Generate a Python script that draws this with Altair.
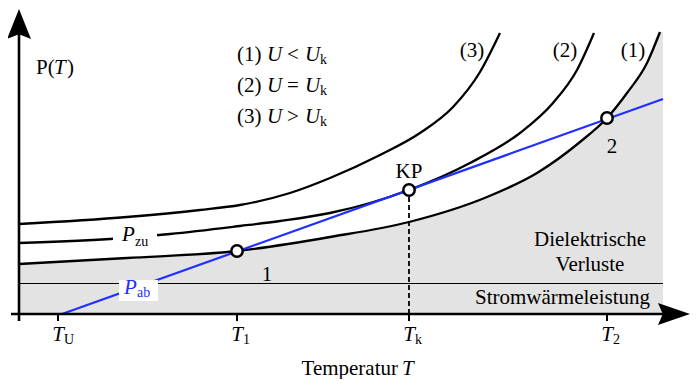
import altair as alt
import pandas as pd

# ---- data (x: temperature, y: power; arbitrary units) ----
curve1_x = [0, 108, 218, 311, 390, 468, 518, 561, 588, 608, 628, 641]
curve1_y = [50, 56, 63, 77, 92, 117, 141, 172, 196, 221, 251, 282]
curve2_x = [0, 91, 151, 221, 261, 311, 351, 390, 451, 501, 534, 558, 575]
curve2_y = [71, 75, 80, 88, 93, 101, 111, 124, 151, 181, 211, 244, 281]
curve3_x = [0, 108, 181, 221, 271, 311, 361, 401, 434, 461, 481]
curve3_y = [90, 97, 104, 109, 121, 136, 159, 181, 207, 242, 281]
pab_x = [43, 644]
pab_y = [0, 215]
gray_end_x = 644
gray_top_y = 282
joule_y = 30.5

tick_x = [39, 218, 390, 588]
tick_sub = ["U", "1", "k", "2"]
pts_x = [218, 390, 588]
pts_y = [63, 124, 196]

X_DOMAIN = [-11, 672]
Y_DOMAIN = [-65, 306]

FONT = "Liberation Serif"
BIG = 21
SMALL = 14

xs = alt.Scale(domain=X_DOMAIN, nice=False, zero=False)
ys = alt.Scale(domain=Y_DOMAIN, nice=False, zero=False)
X = alt.X("x:Q", scale=xs, axis=None)
Y = alt.Y("y:Q", scale=ys, axis=None)
X2 = alt.X2("x2:Q")
Y2 = alt.Y2("y2:Q")

# gray region under curve (1)
gray_df = pd.DataFrame({"x": curve1_x + [gray_end_x], "y": curve1_y + [gray_top_y], "y2": 0})
gray = alt.Chart(gray_df).mark_area(color="#e3e3e3", opacity=1, interpolate="monotone").encode(
    x=X, y=Y, y2=Y2)

joule = alt.Chart(pd.DataFrame({"x": [0], "x2": [gray_end_x], "y": [joule_y]})).mark_rule(
    color="black", strokeWidth=1).encode(x=X, x2=X2, y=Y)

curves_df = pd.concat([
    pd.DataFrame({"x": curve1_x, "y": curve1_y, "c": "1"}),
    pd.DataFrame({"x": curve2_x, "y": curve2_y, "c": "2"}),
    pd.DataFrame({"x": curve3_x, "y": curve3_y, "c": "3"}),
])
curves = alt.Chart(curves_df).mark_line(color="black", strokeWidth=2.3, interpolate="monotone").encode(
    x=X, y=Y, detail="c:N")

pab = alt.Chart(pd.DataFrame({"x": pab_x, "y": pab_y})).mark_line(color="#1f2fff", strokeWidth=2.2).encode(x=X, y=Y)

dashed = alt.Chart(pd.DataFrame({"x": [pts_x[1]], "y": [0], "y2": [pts_y[1]]})).mark_rule(
    color="black", strokeWidth=1.8, strokeDash=[5, 3]).encode(x=X, y=Y, y2=Y2)

axes_df = pd.DataFrame({"x": [0, -8], "x2": [0, 645], "y": [-7, 0], "y2": [285, 0]})
axes = alt.Chart(axes_df).mark_rule(color="black", strokeWidth=2.6).encode(x=X, x2=X2, y=Y, y2=Y2)

ticks = alt.Chart(pd.DataFrame({"x": tick_x, "y": 0, "y2": -7})).mark_rule(
    color="black", strokeWidth=2).encode(x=X, y=Y, y2=Y2)

arrow_up = alt.Chart(pd.DataFrame({"x": [0], "y": [290]})).mark_point(
    shape="M0,-1L0.8,1L0,0.68L-0.8,1Z", filled=True, color="black", opacity=1, size=900, strokeWidth=0
).encode(x=X, y=Y)
arrow_right = alt.Chart(pd.DataFrame({"x": [655], "y": [0]})).mark_point(
    shape="M1,0L-1,-0.68L-0.7,0L-1,0.68Z", filled=True, color="black", opacity=1, size=1024, strokeWidth=0
).encode(x=X, y=Y)

boxes_df = pd.DataFrame({"x": [94, 100], "x2": [138, 139], "y": [65, 13], "y2": [87, 34]})
boxes = alt.Chart(boxes_df).mark_rect(color="white", opacity=1).encode(x=X, x2=X2, y=Y, y2=Y2)

circles = alt.Chart(pd.DataFrame({"x": pts_x, "y": pts_y})).mark_point(
    shape="circle", filled=True, fill="white", stroke="black", strokeWidth=2.5, size=130, opacity=1
).encode(x=X, y=Y)

legend_y = [259, 228, 197]
ops = ["<", "=", ">"]


def txt(rows, style="normal", size=BIG, align="left"):
    df = pd.DataFrame(rows, columns=["t", "x", "y", "col"])
    return alt.Chart(df).mark_text(font=FONT, fontSize=size, fontStyle=style, align=align,
                                   baseline="middle").encode(
        x=X, y=Y, text="t:N", color=alt.Color("col:N", scale=None))


B = "black"
BL = "#1f2fff"
normal_left = [("P(", 17, 246, B), (")", 48, 246, B)]
italic_left = [("T", 35, 246, B), ("T", 383, -55, B), ("P", 103, 79, B), ("P", 105, 26, BL)]
sub_left = [("zu", 116, 72, B), ("ab", 118, 21, BL)]
for i, ly in enumerate(legend_y):
    normal_left.append((f"({i + 1})", 218, ly, B))
    normal_left.append((ops[i], 268, ly, B))
    italic_left.append(("U", 248, ly, B))
    italic_left.append(("U", 286, ly, B))
    sub_left.append(("k", 301, ly - 5, B))
for tx, s in zip(tick_x, tick_sub):
    sub_left.append((s, tx + 6, -26, B))
italic_center = [("T", tx, -21, B) for tx in tick_x]
normal_center = [("KP", 390, 142, B), ("1", 248, 39, B), ("2", 593, 167, B),
                 ("(3)", 453, 263, B), ("(2)", 546, 263, B), ("(1)", 614, 263, B),
                 ("Dielektrische", 571, 74, B), ("Verluste", 571, 49, B)]
normal_right = [("Stromwärmeleistung", 631, 16, B), ("Temperatur", 379, -55, B)]

texts = [
    txt(normal_left), txt(italic_left, style="italic"), txt(sub_left, size=SMALL),
    txt(italic_center, style="italic", align="center"), txt(normal_center, align="center"),
    txt(normal_right, align="right"),
]

chart = alt.layer(
    gray, joule, curves, pab, dashed, axes, ticks, boxes, circles, arrow_up, arrow_right, *texts
).properties(width=683, height=371, autosize="none", padding=0, background="white").configure_view(stroke=None)

chart.save("out.html", embed_options={"renderer": "svg", "actions": False})
